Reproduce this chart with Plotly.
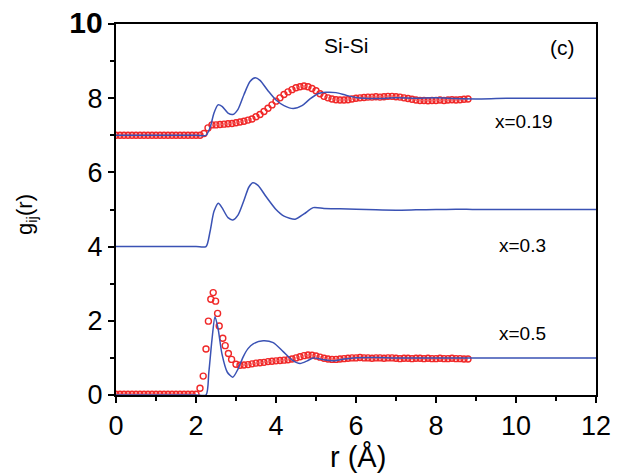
import plotly.graph_objects as go

# ---- blue curves (simulation), plotted values incl. vertical offsets ----
r_b019 = [0.0, 1.0, 2.0, 2.25, 2.35, 2.45, 2.55, 2.65, 2.8, 2.92, 3.05, 3.2, 3.35, 3.48, 3.6, 3.8, 4.0, 4.2,
          4.43, 4.65, 4.85, 5.05, 5.25, 5.5, 5.75, 6.0, 6.5, 7.0, 7.5, 8.0, 8.5, 9.0, 9.5, 10.0, 11.0, 12.0]
g_b019 = [7.0, 7.0, 7.0, 7.0, 7.2, 7.6, 7.82, 7.78, 7.6, 7.56, 7.7, 8.1, 8.45, 8.55, 8.48, 8.2, 7.95, 7.8,
          7.72, 7.8, 7.98, 8.12, 8.16, 8.15, 8.08, 8.02, 7.99, 8.01, 8.0, 8.01, 7.99, 7.98, 7.99, 8.0, 8.0, 8.0]

r_b03 = [0.0, 1.0, 2.0, 2.25, 2.35, 2.45, 2.56, 2.65, 2.8, 2.92, 3.05, 3.2, 3.32, 3.42, 3.55, 3.75, 4.0, 4.2,
         4.48, 4.7, 4.93, 5.2, 5.6, 6.0, 6.5, 7.0, 7.5, 8.0, 8.5, 9.0, 10.0, 11.0, 12.0]
g_b03 = [4.0, 4.0, 4.0, 4.0, 4.4, 4.95, 5.17, 5.05, 4.78, 4.72, 4.85, 5.25, 5.6, 5.72, 5.65, 5.35, 5.0, 4.82,
         4.74, 4.88, 5.05, 5.03, 5.02, 5.01, 4.99, 4.98, 4.99, 5.0, 5.01, 5.0, 5.0, 5.0, 5.0]

r_b05 = [0.0, 1.0, 2.0, 2.25, 2.32, 2.4, 2.475, 2.55, 2.65, 2.78, 2.92, 3.05, 3.18, 3.3, 3.43, 3.68, 3.93, 4.18,
         4.4, 4.6, 4.78, 4.93, 5.15, 5.43, 5.7, 5.93, 6.5, 7.0, 8.0, 9.0, 10.0, 11.0, 12.0]
g_b05 = [0.0, 0.0, 0.0, 0.0, 0.6, 1.5, 2.11, 1.8, 1.1, 0.62, 0.48, 0.7, 1.03, 1.25, 1.38, 1.46, 1.41, 1.17,
         0.95, 0.85, 0.92, 1.0, 0.96, 0.92, 0.97, 1.0, 1.01, 1.0, 1.0, 1.0, 1.0, 1.0, 1.0]

# ---- red open circles (experiment) ----
r_r019 = [0.0, 0.1, 0.2, 0.3, 0.4, 0.5, 0.6, 0.7, 0.8, 0.9, 1.0, 1.1, 1.2, 1.3, 1.4, 1.5, 1.6, 1.7, 1.8, 1.9,
          2.0, 2.1, 2.2, 2.3, 2.4, 2.5, 2.6, 2.7, 2.8, 2.9, 3.0, 3.1, 3.2, 3.3, 3.4, 3.5, 3.6, 3.7, 3.8, 3.9,
          4.0, 4.1, 4.2, 4.3, 4.4, 4.5, 4.6, 4.7, 4.8, 4.9, 5.0, 5.1, 5.2, 5.3, 5.4, 5.5, 5.6, 5.7, 5.8, 5.9,
          6.0, 6.1, 6.2, 6.3, 6.4, 6.5, 6.6, 6.7, 6.8, 6.9, 7.0, 7.1, 7.2, 7.3, 7.4, 7.5, 7.6, 7.7, 7.8, 7.9,
          8.0, 8.1, 8.2, 8.3, 8.4, 8.5, 8.6, 8.7, 8.8]
g_r019 = [7.0, 7.0, 7.0, 7.0, 7.0, 7.0, 7.0, 7.0, 7.0, 7.0, 7.0, 7.0, 7.0, 7.0, 7.0, 7.0, 7.0, 7.0, 7.0, 7.0,
          7.0, 7.0, 7.05, 7.2, 7.28, 7.28, 7.29, 7.3, 7.31, 7.32, 7.34, 7.36, 7.38, 7.41, 7.44, 7.5, 7.56, 7.64, 7.73, 7.82,
          7.92, 8.01, 8.1, 8.17, 8.23, 8.28, 8.31, 8.33, 8.31, 8.26, 8.2, 8.12, 8.05, 8.01, 7.98, 7.96, 7.95, 7.95, 7.96, 7.98,
          8.0, 8.01, 8.02, 8.03, 8.03, 8.04, 8.03, 8.04, 8.05, 8.05, 8.04, 8.03, 8.01, 7.99, 7.97, 7.95, 7.94, 7.94, 7.93, 7.94,
          7.94, 7.95, 7.94, 7.95, 7.96, 7.95, 7.96, 7.97, 7.98]

r_r05 = [0.0, 0.1, 0.2, 0.3, 0.4, 0.5, 0.6, 0.7, 0.8, 0.9, 1.0, 1.1, 1.2, 1.3, 1.4, 1.5, 1.6, 1.7, 1.8, 1.9,
         2.0, 2.1, 2.18, 2.25, 2.31, 2.37, 2.43, 2.49, 2.54, 2.58, 2.67, 2.73, 2.81, 2.89, 3.0,
         3.1, 3.2, 3.3, 3.4, 3.5, 3.6, 3.7, 3.8, 3.9, 4.0, 4.1, 4.2, 4.3, 4.4, 4.5, 4.6, 4.7, 4.8, 4.9,
         5.0, 5.1, 5.2, 5.3, 5.4, 5.5, 5.6, 5.7, 5.8, 5.9, 6.0, 6.1, 6.2, 6.3, 6.4, 6.5, 6.6, 6.7, 6.8, 6.9,
         7.0, 7.1, 7.2, 7.3, 7.4, 7.5, 7.6, 7.7, 7.8, 7.9, 8.0, 8.1, 8.2, 8.3, 8.4, 8.5, 8.6, 8.7, 8.8]
g_r05 = [0.02, 0.02, 0.02, 0.02, 0.02, 0.02, 0.02, 0.02, 0.02, 0.02, 0.02, 0.02, 0.02, 0.02, 0.02, 0.02, 0.02, 0.02, 0.02, 0.02,
         0.02, 0.18, 0.51, 1.24, 1.99, 2.58, 2.76, 2.53, 2.2, 1.86, 1.53, 1.33, 1.12, 0.96, 0.83,
         0.8, 0.81, 0.82, 0.84, 0.86, 0.87, 0.88, 0.9, 0.91, 0.92, 0.93, 0.94, 0.95, 0.97, 1.0, 1.03, 1.06, 1.08, 1.07,
         1.05, 1.02, 0.99, 0.97, 0.96, 0.96, 0.97, 0.98, 0.99, 1.0, 1.0, 1.01, 1.0, 1.0, 0.99, 1.0, 1.0, 0.99, 1.0, 1.0,
         0.99, 0.98, 0.99, 0.99, 0.98, 0.99, 0.99, 0.98, 0.99, 0.98, 0.98, 0.99, 0.98, 0.98, 0.99, 0.98, 0.98, 0.97, 0.97]

# ---- text ----
x_ticks = [0, 2, 4, 6, 8, 10, 12]
y_ticks = [0, 2, 4, 6, 8, 10]
y_ticktext = ["0", "2", "4", "6", "8", "<span style='font-size:30px'><b>10</b></span>"]
panel_title = "Si-Si"
panel_tag = "(c)"
comp_labels = ["x=0.19", "x=0.3", "x=0.5"]
comp_label_x = [10.2, 10.15, 10.15]
comp_label_y = [7.38, 4.02, 1.67]

BLUE = "rgb(58,82,180)"
RED = "rgb(240,40,40)"
FONT = "Liberation Sans, Arial, sans-serif"

fig = go.Figure()
for rr, gg in [(r_r019, g_r019), (r_r05, g_r05)]:
    fig.add_trace(go.Scatter(x=rr, y=gg, mode="markers",
                             marker=dict(symbol="circle-open", size=6, color=RED,
                                         line=dict(width=1.4, color=RED)),
                             showlegend=False, hoverinfo="skip"))
for rr, gg in [(r_b019, g_b019), (r_b03, g_b03), (r_b05, g_b05)]:
    fig.add_trace(go.Scatter(x=rr, y=gg, mode="lines",
                             line=dict(color=BLUE, width=1.5, shape="spline", smoothing=0.7),
                             showlegend=False, hoverinfo="skip"))

axis_common = dict(showgrid=False, zeroline=False, showline=True, linecolor="black", linewidth=2,
                   mirror=True, ticks="outside", ticklen=6, tickwidth=2, tickcolor="black",
                   automargin=False,
                   tickfont=dict(family=FONT, size=27, color="black"))
fig.update_xaxes(range=[0, 12], tickvals=x_ticks,
                 minor=dict(dtick=1, ticks="outside", ticklen=4, tickwidth=1.5, tickcolor="black"),
                 **axis_common)
fig.update_yaxes(range=[0, 10], tickvals=y_ticks, ticktext=y_ticktext,
                 minor=dict(dtick=1, ticks="outside", ticklen=4, tickwidth=1.5, tickcolor="black"),
                 **axis_common)

ann = []
ann.append(dict(text=panel_title, x=5.75, y=9.41, xref="x", yref="y", showarrow=False,
                font=dict(family=FONT, size=21, color="black")))
ann.append(dict(text=panel_tag, x=11.15, y=9.38, xref="x", yref="y", showarrow=False,
                font=dict(family=FONT, size=21, color="black")))
for t, lx, ly in zip(comp_labels, comp_label_x, comp_label_y):
    ann.append(dict(text=t, x=lx, y=ly, xref="x", yref="y", showarrow=False,
                    font=dict(family=FONT, size=19, color="black")))
ann.append(dict(text="r (Å)", x=0.504, y=-0.166, xref="paper", yref="paper", showarrow=False,
                xanchor="center", yanchor="middle", font=dict(family=FONT, size=29, color="black")))
ann.append(dict(text="g<sub>ij</sub>(r)", x=-0.1875, y=0.485, xref="paper", yref="paper", showarrow=False,
                xanchor="center", yanchor="middle", textangle=-90,
                font=dict(family=FONT, size=22, color="black")))

fig.update_layout(width=617, height=474, margin=dict(l=116, r=21, t=24, b=79, autoexpand=False),
                  paper_bgcolor="white", plot_bgcolor="white", annotations=ann)

fig.write_html("out.html", config={"displayModeBar": False},
               post_script="document.body.style.margin='0';document.body.style.overflow='hidden';")
